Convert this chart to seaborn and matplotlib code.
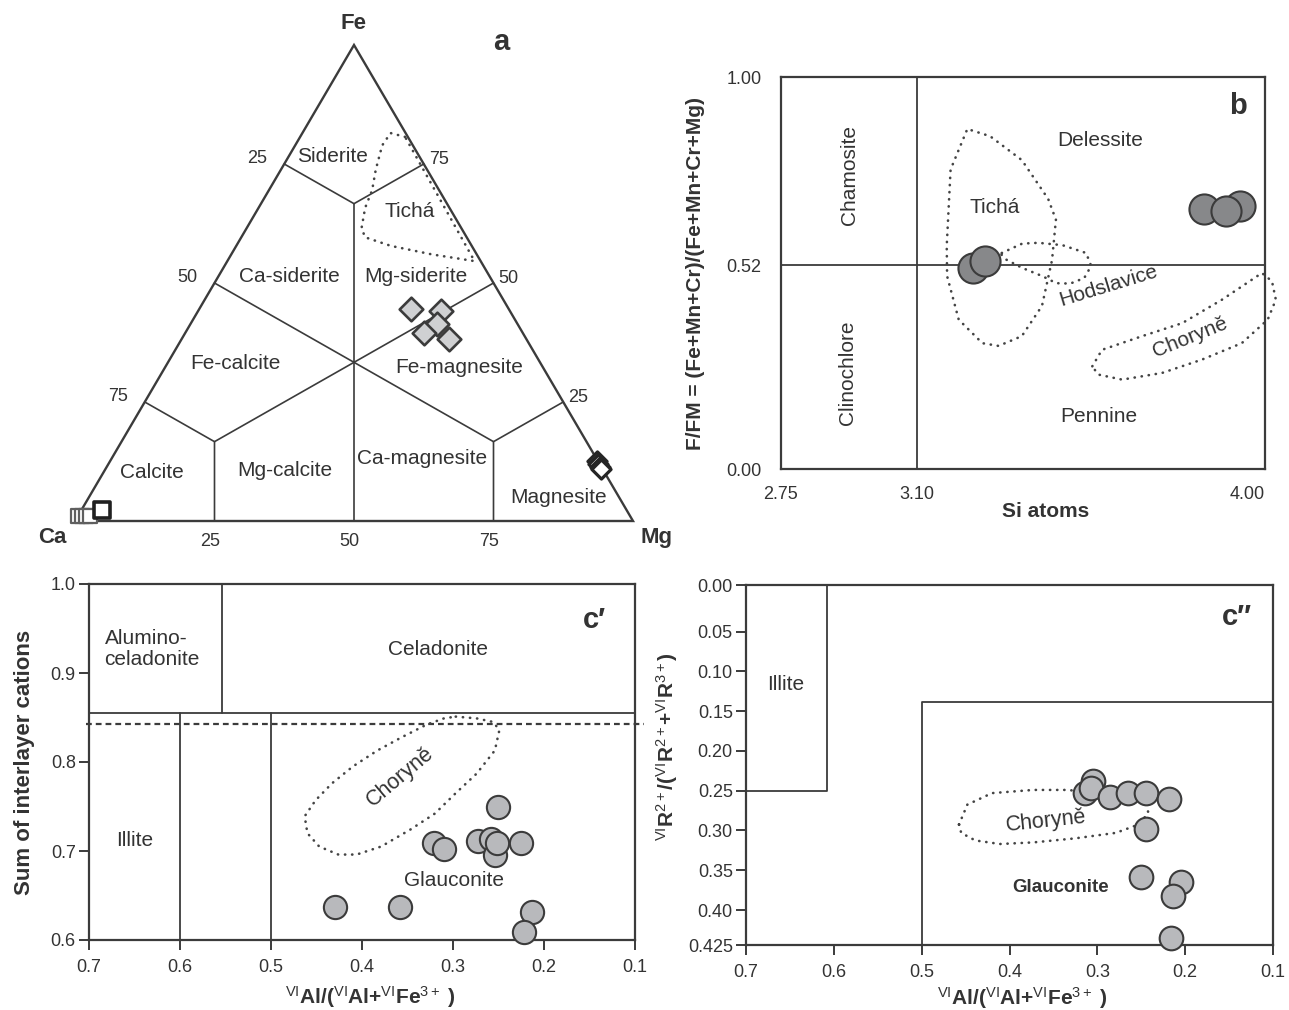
import numpy as np
import pandas as pd
import matplotlib
matplotlib.use("Agg")
import matplotlib.pyplot as plt
import seaborn as sns

sns.set_theme(style="white")
plt.rcParams['font.family'] = ['Liberation Sans', 'DejaVu Sans']
plt.rcParams['mathtext.fontset'] = 'custom'
plt.rcParams['mathtext.rm'] = 'Liberation Sans'
plt.rcParams['mathtext.it'] = 'Liberation Sans:italic'
plt.rcParams['mathtext.bf'] = 'Liberation Sans:bold'
plt.rcParams['axes.unicode_minus'] = False

# ============================================================
# Data
# ============================================================
# (a) carbonates, Ca-Fe-Mg ternary (mol %, Ca = 100 - Fe - Mg)
carb_fe = [44.5, 44.2, 41.3, 39.6, 38.3]
carb_mg = [38.0, 43.5, 44.2, 42.7, 47.8]
mgs_fe = [12.6, 12.0, 11.4, 10.9]
mgs_mg = [87.2, 87.8, 88.4, 88.9]
cal_fe = [1.0, 1.0, 1.0, 1.0]
cal_mg = [0.0, 0.7, 1.4, 2.1]
cal2_fe = [2.3]
cal2_mg = [3.7]
ticha_fe = [80.7, 81.5, 78.9, 73.8, 69.5, 65.8, 61.5, 59.6, 57.8, 56.0, 54.6, 80.7]
ticha_mg = [18.8, 15.8, 15.6, 17.0, 18.5, 19.1, 20.6, 22.2, 27.7, 36.0, 44.3, 18.8]
tern_ticks = [25, 50, 75]

# (b) chlorites
si_atoms = [3.245, 3.276, 3.842, 3.935, 3.899]
f_fm = [0.513, 0.530, 0.662, 0.670, 0.657]
b_xticks = [2.75, 3.10, 4.00]
b_yticks = [0.00, 0.52, 1.00]
ticha_si = [3.229, 3.188, 3.178, 3.179, 3.209, 3.270, 3.312, 3.372, 3.424,
            3.450, 3.460, 3.440, 3.372, 3.290, 3.239, 3.229]
ticha_ffm = [0.862, 0.764, 0.569, 0.492, 0.381, 0.321, 0.314, 0.339, 0.416,
             0.533, 0.636, 0.689, 0.788, 0.849, 0.865, 0.862]
hods_si = [3.320, 3.373, 3.415, 3.477, 3.538, 3.551, 3.533, 3.497, 3.461,
           3.425, 3.373, 3.332, 3.318]
hods_ffm = [0.551, 0.575, 0.577, 0.571, 0.551, 0.518, 0.487, 0.473, 0.474,
            0.492, 0.513, 0.534, 0.548]
chorb_si = [3.554, 3.579, 3.683, 3.786, 3.889, 3.992, 4.018, 4.028, 4.007,
            3.940, 3.837, 3.734, 3.631, 3.569, 3.554]
chorb_ffm = [0.262, 0.304, 0.339, 0.372, 0.432, 0.500, 0.479, 0.432, 0.381,
             0.321, 0.279, 0.245, 0.228, 0.241, 0.262]

# (c') glauconite, sum of interlayer cations
gl_al1 = [0.251, 0.321, 0.310, 0.273, 0.258, 0.254, 0.252, 0.225, 0.430, 0.358, 0.213, 0.222]
gl_sum = [0.750, 0.709, 0.702, 0.711, 0.713, 0.6955, 0.709, 0.709, 0.6375, 0.6375, 0.631, 0.609]
chor1_al = [0.297, 0.274, 0.256, 0.249, 0.254, 0.274, 0.297, 0.320, 0.347, 0.379, 0.406,
            0.426, 0.447, 0.460, 0.463, 0.451, 0.433, 0.410, 0.383, 0.356, 0.329, 0.310, 0.297]
chor1_sum = [0.851, 0.849, 0.845, 0.836, 0.813, 0.787, 0.765, 0.742, 0.724, 0.705, 0.696,
             0.696, 0.705, 0.720, 0.739, 0.757, 0.776, 0.795, 0.813, 0.828, 0.842, 0.849, 0.851]
c_xticks = [0.7, 0.6, 0.5, 0.4, 0.3, 0.2, 0.1]
c1_yticks = [0.6, 0.7, 0.8, 0.9, 1.0]

# (c'') glauconite, R2+/(R2+ + R3+)
gl_al2 = [0.314, 0.305, 0.307, 0.286, 0.265, 0.245, 0.218, 0.245, 0.250, 0.205, 0.214, 0.216]
gl_r2 = [0.253, 0.238, 0.247, 0.258, 0.253, 0.253, 0.261, 0.2975, 0.358, 0.365, 0.382, 0.420]
chor2_al = [0.4575, 0.448, 0.420, 0.373, 0.336, 0.303, 0.265, 0.244, 0.242, 0.253,
            0.279, 0.326, 0.373, 0.411, 0.439, 0.455, 0.4575]
chor2_r2 = [0.2925, 0.2675, 0.253, 0.249, 0.249, 0.2517, 0.257, 0.265, 0.278, 0.2925,
            0.303, 0.310, 0.315, 0.317, 0.3125, 0.303, 0.2925]
c2_yticks = [0.00, 0.05, 0.10, 0.15, 0.20, 0.25, 0.30, 0.35, 0.40, 0.425]
c2_ytick_labels = ["0.00", "0.05", "0.10", "0.15", "0.20", "0.25", "0.30", "0.35", "0.40", "0.425"]

# ============================================================
# Styles
# ============================================================
INK = "#3b3b3b"
TXT = "#333333"
DOT = dict(color="#444444", lw=1.9, linestyle=(0, (0.1, 2.6)), dash_capstyle="round")
SQ3 = np.sqrt(3) / 2

W, H = 1289, 1010
fig = plt.figure(figsize=(W / 100, H / 100), dpi=100)


def box(l, t, r, b):
    return [l / W, 1 - b / H, (r - l) / W, (b - t) / H]


def tern(fe, mg):
    fe = np.asarray(fe, float) / 100
    mg = np.asarray(mg, float) / 100
    return mg + fe / 2, fe * SQ3


def frame(ax):
    for s in ax.spines.values():
        s.set_visible(True)
        s.set_color(INK)
        s.set_linewidth(1.6)


# ============================================================
# (a) ternary
# ============================================================
ax = fig.add_axes(box(75, 45, 633, 521))
ax.set_xlim(0, 1)
ax.set_ylim(0, SQ3)
ax.axis("off")

c = 100 / 3
tern_lines = [
    ([0, 0, 100, 0], [0, 100, 0, 0]),
    ([75, 200 / 3, 75], [0, 50 / 3, 25]),
    ([200 / 3, c], [50 / 3, c]),
    ([25, 50 / 3, 0], [0, 50 / 3, 25]),
    ([50 / 3, c], [50 / 3, c]),
    ([25, 50 / 3, 0], [75, 200 / 3, 75]),
    ([50 / 3, c], [200 / 3, c]),
    ([50, c, 50], [0, c, 50]),
    ([c, 0], [c, 50]),
]
for i, (fe, mg) in enumerate(tern_lines):
    x, y = tern(fe, mg)
    ax.plot(x, y, color=INK, lw=1.7 if i == 0 else 1.2, clip_on=False, solid_joinstyle="miter")

x, y = tern(ticha_fe, ticha_mg)
ax.plot(x, y, **DOT)

x, y = tern(carb_fe, carb_mg)
sns.scatterplot(x=x, y=y, marker="D", s=145, color="#cfd0d2", edgecolor=INK,
                linewidth=1.9, ax=ax, zorder=5, legend=False, clip_on=False)
x, y = tern(mgs_fe, mgs_mg)
sns.scatterplot(x=x, y=y, marker="D", s=95, color="white", edgecolor="#252525",
                linewidth=2.3, ax=ax, zorder=5, legend=False, clip_on=False)
x, y = tern(cal_fe, cal_mg)
sns.scatterplot(x=x, y=y, marker="s", s=95, color="white", edgecolor="#5f5f5f",
                linewidth=1.6, ax=ax, zorder=5, legend=False, clip_on=False)
x, y = tern(cal2_fe, cal2_mg)
sns.scatterplot(x=x, y=y, marker="s", s=125, color="white", edgecolor="#202020",
                linewidth=2.6, ax=ax, zorder=6, legend=False, clip_on=False)

fields_a = [("Siderite", 0.462, 0.663), ("Tichá", 0.599, 0.564),
            ("Ca-siderite", 0.3835, 0.444), ("Mg-siderite", 0.610, 0.444),
            ("Fe-calcite", 0.288, 0.287), ("Fe-magnesite", 0.688, 0.280),
            ("Calcite", 0.1386, 0.088), ("Mg-calcite", 0.376, 0.091),
            ("Ca-magnesite", 0.622, 0.113), ("Magnesite", 0.8674, 0.042)]
for txt, tx, ty in fields_a:
    ax.text(tx, ty, txt, fontsize=15, color=TXT, ha="center", va="center")

for v in tern_ticks:
    x, y = tern(100 - v, 0)
    ax.text(x - 0.048, y + 0.01, str(v), fontsize=13, color=TXT, ha="center", va="center")
    x, y = tern(v, 100 - v)
    ax.text(x + 0.027, y + 0.008, str(v), fontsize=13, color=TXT, ha="center", va="center")
    x, y = tern(0, v)
    ax.text(x - 0.008, y - 0.038, str(v), fontsize=13, color=TXT, ha="center", va="center")

ax.text(0.5, 0.905, "Fe", fontsize=16, fontweight="bold", color=TXT, ha="center", va="center")
ax.text(-0.041, -0.03, "Ca", fontsize=16, fontweight="bold", color=TXT, ha="center", va="center")
ax.text(1.043, -0.03, "Mg", fontsize=16, fontweight="bold", color=TXT, ha="center", va="center")
ax.text(0.764, 0.872, "a", fontsize=21, fontweight="bold", color=TXT, ha="center", va="center")

# ============================================================
# (b) chlorite
# ============================================================
ax = fig.add_axes(box(781, 77, 1265, 469))
ax.set_xlim(2.75, 4.00)
ax.set_ylim(0, 1)
frame(ax)
ax.plot([3.10, 3.10], [0, 1], color=INK, lw=1.3)
ax.plot([2.75, 4.00], [0.52, 0.52], color=INK, lw=1.3)
ax.plot(ticha_si, ticha_ffm, **DOT)
ax.plot(hods_si, hods_ffm, **DOT)
ax.plot(chorb_si, chorb_ffm, clip_on=False, **DOT)
sns.scatterplot(x=si_atoms, y=f_fm, s=470, color="#87888a", edgecolor=INK,
                linewidth=1.5, ax=ax, zorder=5, legend=False)

ax.set_xticks(b_xticks)
ax.set_xticklabels([f"{v:.2f}" for v in b_xticks])
ax.set_yticks(b_yticks)
ax.set_yticklabels([f"{v:.2f}" for v in b_yticks])
ax.tick_params(axis="both", length=0, labelsize=13, labelcolor=TXT)
ax.tick_params(axis="x", pad=12)
ax.tick_params(axis="y", pad=14)
ax.get_xticklabels()[-1].set_ha("right")

ax.text(2.926, 0.751, "Chamosite", rotation=90, fontsize=15, color=TXT, ha="center", va="center")
ax.text(2.922, 0.245, "Clinochlore", rotation=90, fontsize=15, color=TXT, ha="center", va="center")
ax.text(3.574, 0.837, "Delessite", fontsize=15, color=TXT, ha="center", va="center")
ax.text(3.301, 0.666, "Tichá", fontsize=15, color=TXT, ha="center", va="center")
ax.text(3.595, 0.468, "Hodslavice", rotation=17, fontsize=15, color=TXT, ha="center", va="center")
ax.text(3.806, 0.337, "Choryně", rotation=22, fontsize=15, color=TXT, ha="center", va="center")
ax.text(3.571, 0.135, "Pennine", fontsize=15, color=TXT, ha="center", va="center")
ax.text(3.930, 0.926, "b", fontsize=21, fontweight="bold", color=TXT, ha="center", va="center")

ax.set_xlabel("Si atoms", fontsize=15, fontweight="bold", color=TXT)
ax.xaxis.set_label_coords(0.547, -0.084)
ax.set_ylabel("F/FM = (Fe+Mn+Cr)/(Fe+Mn+Cr+Mg)", fontsize=15, fontweight="bold", color=TXT)
ax.yaxis.set_label_coords(-0.157, 0.5)

XLAB = r"$^{\mathrm{VI}}$Al/($^{\mathrm{VI}}$Al+$^{\mathrm{VI}}$Fe$^{3+}$ )"

# ============================================================
# (c') sum of interlayer cations
# ============================================================
ax = fig.add_axes(box(89, 584, 635, 940))
ax.set_xlim(0.7, 0.1)
ax.set_ylim(0.6, 1.0)
frame(ax)
ax.plot([0.7, 0.1], [0.855, 0.855], color=INK, lw=1.3)
ax.plot([0.554, 0.554], [0.855, 1.0], color=INK, lw=1.3)
ax.plot([0.6, 0.6], [0.6, 0.855], color=INK, lw=1.3)
ax.plot([0.5, 0.5], [0.6, 0.855], color=INK, lw=1.3)
ax.plot([0.703, 0.09], [0.843, 0.843], color=INK, lw=1.6, linestyle=(0, (2.6, 1.8)), clip_on=False)
ax.plot(chor1_al, chor1_sum, **DOT)
sns.scatterplot(x=gl_al1, y=gl_sum, s=280, color="#b8b9bc", edgecolor=INK,
                linewidth=1.5, ax=ax, zorder=5, legend=False, clip_on=False)

ax.set_xticks(c_xticks)
ax.set_xticklabels([f"{v:.1f}" for v in c_xticks])
ax.set_yticks(c1_yticks)
ax.set_yticklabels([f"{v:.1f}" for v in c1_yticks])
ax.tick_params(axis="both", bottom=True, left=True, direction="out", length=7.5,
               width=1.4, color=INK, labelsize=13, labelcolor=TXT, pad=2)
ax.tick_params(axis="x", pad=6)

ax.text(0.683, 0.927, "Alumino-\nceladonite", fontsize=15, color=TXT, ha="left", va="center",
        linespacing=1.15)
ax.text(0.316, 0.926, "Celadonite", fontsize=15, color=TXT, ha="center", va="center")
ax.text(0.1445, 0.9596, "c\u2032", fontsize=21, fontweight="bold", color=TXT, ha="center", va="center")
ax.text(0.650, 0.712, "Illite", fontsize=15, color=TXT, ha="center", va="center")
ax.text(0.358, 0.7835, "Choryně", rotation=40, fontsize=15.5, color=TXT, ha="center", va="center")
ax.text(0.299, 0.6667, "Glauconite", fontsize=15, color=TXT, ha="center", va="center")

ax.set_xlabel(XLAB, fontsize=15, fontweight="bold", color=TXT)
ax.xaxis.set_label_coords(0.515, -0.125)
ax.set_ylabel("Sum of interlayer cations", fontsize=16, fontweight="bold", color=TXT)
ax.yaxis.set_label_coords(-0.099, 0.5)

# ============================================================
# (c'') R2+ / (R2+ + R3+)
# ============================================================
ax = fig.add_axes(box(746, 585, 1273, 945))
# the printed axis is not uniform (0-0.05 and 0.40-0.425 stretched), follow it
_yv = [-1.0, 0.0, 0.05, 0.40, 0.425, 2.0]
_yp = [-2.594, 0.0, 0.1297, 0.9028, 1.0, 7.124]
ax.set_yscale("function", functions=(lambda v: np.interp(v, _yv, _yp),
                                     lambda p: np.interp(p, _yp, _yv)))
ax.set_xlim(0.7, 0.1)
ax.set_ylim(0.425, 0.0)
frame(ax)
ax.plot([0.7, 0.608, 0.608], [0.25, 0.25, 0.0], color=INK, lw=1.3)
ax.plot([0.5, 0.5, 0.1], [0.425, 0.138, 0.138], color=INK, lw=1.3)
ax.plot(chor2_al, chor2_r2, **DOT)
sns.scatterplot(x=gl_al2, y=gl_r2, s=290, color="#b8b9bc", edgecolor=INK,
                linewidth=1.5, ax=ax, zorder=5, legend=False, clip_on=False)

ax.set_xticks(c_xticks)
ax.set_xticklabels([f"{v:.1f}" for v in c_xticks])
ax.set_yticks(c2_yticks)
ax.set_yticklabels(c2_ytick_labels)
ax.yaxis.set_minor_locator(matplotlib.ticker.NullLocator())
ax.tick_params(axis="both", bottom=True, left=True, direction="out", length=7.5,
               width=1.4, color=INK, labelsize=13, labelcolor=TXT, pad=2)
ax.tick_params(axis="x", pad=6)

ax.text(0.6545, 0.1167, "Illite", fontsize=15, color=TXT, ha="center", va="center")
ax.text(0.141, 0.034, "c\u2033", fontsize=21, fontweight="bold", color=TXT, ha="center", va="center")
ax.text(0.358, 0.289, "Choryně", rotation=6, fontsize=15.5, color=TXT, ha="center", va="center")
ax.text(0.342, 0.3717, "Glauconite", fontsize=13.5, fontweight="bold", color=TXT, ha="center", va="center")

ax.set_xlabel(XLAB, fontsize=15, fontweight="bold", color=TXT)
ax.xaxis.set_label_coords(0.524, -0.111)
ax.set_ylabel(r"$^{\mathrm{VI}}$R$^{2+}$/($^{\mathrm{VI}}$R$^{2+}$+$^{\mathrm{VI}}$R$^{3+}$)",
              fontsize=15, fontweight="bold", color=TXT)
ax.yaxis.set_label_coords(-0.125, 0.55)

fig.savefig("out.png", dpi=100, facecolor="white")
